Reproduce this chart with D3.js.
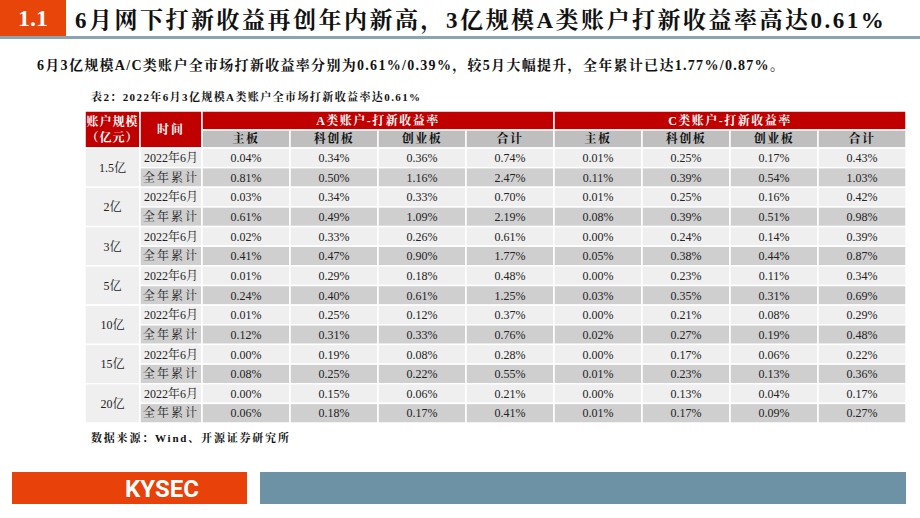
<!DOCTYPE html>
<html><head><meta charset="utf-8">
<script src="https://cdn.jsdelivr.net/npm/d3@7"></script>
<style>body{margin:0;background:#fff}svg{display:block}</style>
</head><body><svg id="c" width="920" height="518"></svg>
<script>
const sizes=["1.5亿","2亿","3亿","5亿","10亿","15亿","20亿"];
const periods=["2022年6月","全年累计"];
const groups=["A类账户-打新收益率","C类账户-打新收益率"];
const boards=["主板","科创板","创业板","合计"];
// each row: A 主板,科创板,创业板,合计, C 主板,科创板,创业板,合计
const rows=[
["0.04%","0.34%","0.36%","0.74%","0.01%","0.25%","0.17%","0.43%"],
["0.81%","0.50%","1.16%","2.47%","0.11%","0.39%","0.54%","1.03%"],
["0.03%","0.34%","0.33%","0.70%","0.01%","0.25%","0.16%","0.42%"],
["0.61%","0.49%","1.09%","2.19%","0.08%","0.39%","0.51%","0.98%"],
["0.02%","0.33%","0.26%","0.61%","0.00%","0.24%","0.14%","0.39%"],
["0.41%","0.47%","0.90%","1.77%","0.05%","0.38%","0.44%","0.87%"],
["0.01%","0.29%","0.18%","0.48%","0.00%","0.23%","0.11%","0.34%"],
["0.24%","0.40%","0.61%","1.25%","0.03%","0.35%","0.31%","0.69%"],
["0.01%","0.25%","0.12%","0.37%","0.00%","0.21%","0.08%","0.29%"],
["0.12%","0.31%","0.33%","0.76%","0.02%","0.27%","0.19%","0.48%"],
["0.00%","0.19%","0.08%","0.28%","0.00%","0.17%","0.06%","0.22%"],
["0.08%","0.25%","0.22%","0.55%","0.01%","0.23%","0.13%","0.36%"],
["0.00%","0.15%","0.06%","0.21%","0.00%","0.13%","0.04%","0.17%"],
["0.06%","0.18%","0.17%","0.41%","0.01%","0.17%","0.09%","0.27%"]];
const title="6月网下打新收益再创年内新高，3亿规模A类账户打新收益率高达0.61%";
const subtitle="6月3亿规模A/C类账户全市场打新收益率分别为0.61%/0.39%，较5月大幅提升，全年累计已达1.77%/0.87%。";
const caption="表2：2022年6月3亿规模A类账户全市场打新收益率达0.61%";
const source="数据来源：Wind、开源证券研究所";

const F="'Liberation Serif','Noto Serif CJK SC','Noto Sans CJK SC',serif";
const svg=d3.select("#c");
svg.append("rect").attr("x",0).attr("y",0).attr("width",66).attr("height",36).attr("fill","#e8450a");
svg.append("text").attr("x",33).attr("y",26).attr("text-anchor","middle").attr("fill","#fff").attr("font-family",F).attr("font-weight","bold").attr("font-size",24).text("1.1");
svg.append("text").attr("x",75).attr("y",28).attr("font-family",F).attr("font-weight","bold").attr("font-size",23).attr("letter-spacing",2.5).attr("fill","#111").text(title);
svg.append("rect").attr("x",0).attr("y",36).attr("width",920).attr("height",3).attr("fill","#8ba4b3");
svg.append("text").attr("x",37).attr("y",70).attr("font-family",F).attr("font-weight","bold").attr("font-size",14).attr("letter-spacing",1.3).attr("fill","#111").text(subtitle);
svg.append("text").attr("x",91).attr("y",101).attr("font-family",F).attr("font-weight","bold").attr("font-size",11).attr("letter-spacing",1.4).attr("fill","#111").text(caption);
svg.append("text").attr("x",91).attr("y",442).attr("font-family",F).attr("font-weight","bold").attr("font-size",11).attr("letter-spacing",1.8).attr("fill","#111").text(source);

const cols=d3.range(8);
const x=d3.scaleBand().domain(cols).range([202,906]);
const y=d3.scaleBand().domain(d3.range(rows.length)).range([148,423]);
const g=svg.append("g");
function cell(x0,y0,w,h,fill,txt,color,size,bold,ls){
  g.append("rect").attr("x",x0).attr("y",y0).attr("width",w).attr("height",h).attr("fill",fill).attr("stroke","#fff").attr("stroke-width",1.5);
  if(txt!=null){const lines=txt.split("\n");
   lines.forEach((l,i)=>g.append("text").attr("x",x0+w/2).attr("y",y0+h/2+size*0.36+(i-(lines.length-1)/2)*size*1.3)
    .attr("text-anchor","middle").attr("font-family",F).attr("font-size",size).attr("font-weight",bold?"bold":"normal").attr("letter-spacing",ls||0).attr("fill",color).text(l));}
}
const H0=111,H1=130;
cell(85,H0,55,148-H0,"#c00000","账户规模\n（亿元）","#fff",12,true,1);
cell(140,H0,62,148-H0,"#c00000","时间","#fff",12,true,2);
groups.forEach((gr,i)=>cell(x(i*4),H0,x.bandwidth()*4,H1-H0,"#c00000",gr,"#fff",12,true,1.5));
cols.forEach(c=>cell(x(c),H1,x.bandwidth(),148-H1,"#bfbfbf",boards[c%4],"#111",12,true,1.5));
sizes.forEach((s,i)=>cell(85,y(i*2),55,y.bandwidth()*2,"#efefef",s,"#222",12,false));
rows.forEach((r,i)=>{
  const fill=i%2?"#d0cfd0":"#efefef";
  cell(140,y(i),62,y.bandwidth(),fill,periods[i%2],"#222",12,false,i%2?2:0);
  r.forEach((v,c)=>cell(x(c),y(i),x.bandwidth(),y.bandwidth(),fill,v,"#222",12,false));
});
svg.append("rect").attr("x",12).attr("y",472).attr("width",235).attr("height",32).attr("fill","#e8410a");
svg.append("text").attr("x",162).attr("y",497).attr("text-anchor","middle").attr("fill","#fff").attr("font-family","Roboto,'Liberation Sans',sans-serif").attr("font-weight","bold").attr("font-size",24).text("KYSEC");
svg.append("rect").attr("x",260).attr("y",472).attr("width",646).attr("height",32).attr("fill","#6e92a5");
</script></body></html>
